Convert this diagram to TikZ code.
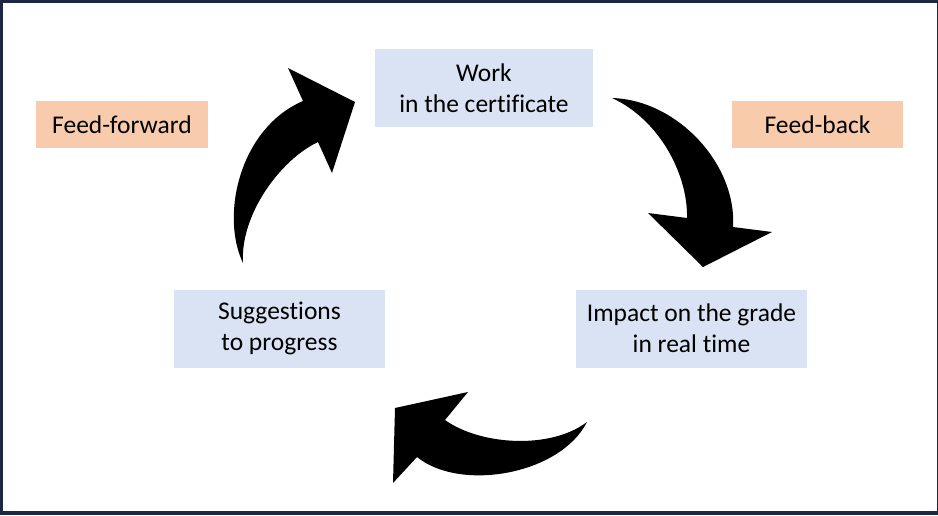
\documentclass[tikz,border=0pt]{standalone}
\usepackage{fontspec}
\setmainfont[Ligatures=NoCommon]{Carlito}
\usepackage{xcolor}

\definecolor{stageblue}{HTML}{DAE3F3}
\definecolor{tagorange}{HTML}{F8CBAD}
\definecolor{framenavy}{HTML}{1C2841}

\tikzset{
  stage/.style={fill=stageblue, minimum height=78pt, inner sep=0pt, align=center,
    font=\fontsize{25.5}{31}\selectfont},
  tag/.style={fill=tagorange, minimum height=47pt, inner sep=0pt,
    font=\fontsize{25.5}{31}\selectfont},
  turn/.style={fill=black}
}

\begin{document}
\begin{tikzpicture}[x=1pt, y=-1pt]
        \useasboundingbox (0, 0) rectangle (938, 515);
        \fill[framenavy] (0, 0) rectangle (938, 515);
        \fill[white] (3, 3) rectangle (937, 511);

        \node[stage, minimum width=218pt] (work) at (484, 88) {Work\\in the certificate};
        \node[stage, minimum width=231pt] (impact) at (691.5, 328.5) {Impact on the grade\\in real time};
        \node[stage, minimum width=211pt] (suggest) at (279.5, 328.5) {Suggestions\\to progress};

        \node[tag, minimum width=172pt] (fforward) at (122, 124.5) {Feed-forward};
        \node[tag, minimum width=171pt] (fback) at (817.5, 124.5) {Feed-back};

        % suggestions -> work
        \fill[turn] (243, 263) .. controls (220, 215) and (240, 128) .. (303, 101)
          -- (288, 68) -- (355, 102) -- (332, 173) -- (318, 142)
          .. controls (280, 160) and (240, 215) .. (243, 263) -- cycle;
        % work -> impact
        \fill[turn] (612, 98) .. controls (678, 100) and (737, 165) .. (733, 227)
          -- (772, 232) -- (703, 267) -- (648, 213) -- (687, 218)
          .. controls (688, 175) and (660, 120) .. (612, 98) -- cycle;
        % impact -> suggestions
        \fill[turn] (587, 422) .. controls (560, 475) and (460, 492) .. (417, 457)
          -- (393, 483) -- (395, 408) -- (468, 392) -- (445, 420)
          .. controls (480, 445) and (550, 450) .. (587, 422) -- cycle;

      \end{tikzpicture}
\end{document}
